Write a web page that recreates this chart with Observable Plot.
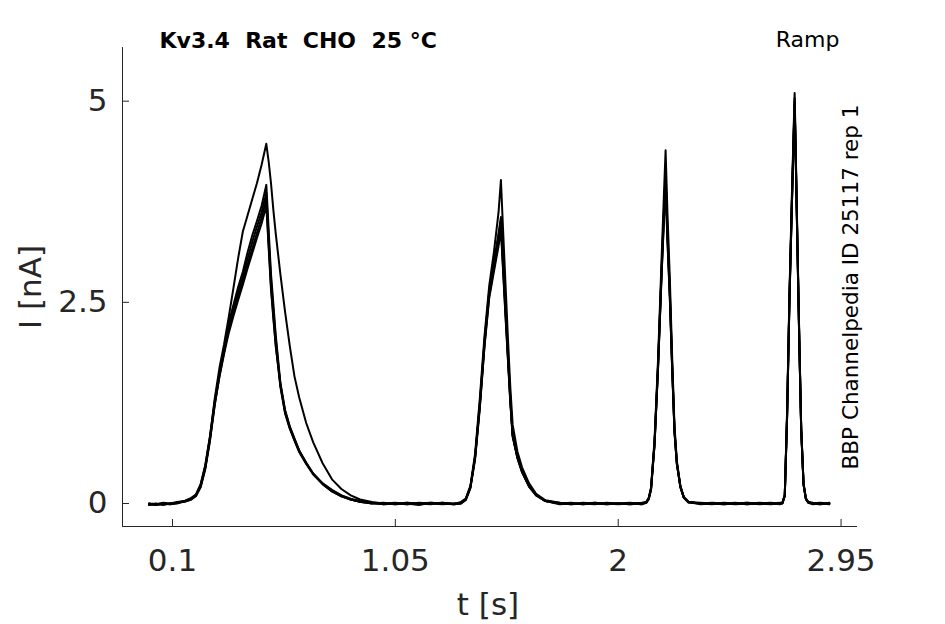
<!DOCTYPE html>
<html>
<head>
<meta charset="utf-8">
<script src="https://cdn.jsdelivr.net/npm/d3@7"></script>
<script src="https://cdn.jsdelivr.net/npm/@observablehq/plot@0.6"></script>
<style>
  html, body { margin: 0; padding: 0; background: #fff; }
  svg text { white-space: pre; }
</style>
</head>
<body>
<div id="chart"></div>
<script>
// ---- data (time in s, current in nA), five repetitions ----
const reps = ["rep A", "rep B", "rep C", "rep D", "rep E"];

const tRamp1 = [0, 0.03, 0.06, 0.09, 0.12, 0.15, 0.18, 0.20, 0.22, 0.24, 0.26, 0.28, 0.30, 0.32, 0.34, 0.36, 0.38, 0.40, 0.42, 0.44, 0.46, 0.48, 0.50, 0.51, 0.52, 0.53, 0.54, 0.56, 0.58, 0.60, 0.62, 0.64, 0.67, 0.70, 0.74, 0.78, 0.82, 0.86, 0.90, 0.95, 1.00, 1.05, 1.10, 1.15, 1.20, 1.25, 1.30];
const iRamp1 = [
  [-0.01, -0.02, 0.00, -0.01, 0.01, 0.03, 0.06, 0.10, 0.22, 0.45, 0.81, 1.25, 1.60, 1.92, 2.25, 2.47, 2.69, 2.88, 3.12, 3.33, 3.51, 3.70, 3.96, 3.40, 2.85, 2.48, 2.10, 1.50, 1.16, 0.96, 0.81, 0.66, 0.50, 0.37, 0.25, 0.17, 0.10, 0.06, 0.03, 0.01, -0.01, 0.00, -0.01, 0.01, 0.00, -0.01, 0.00],
  [0.00, -0.01, 0.01, 0.00, 0.02, 0.03, 0.07, 0.11, 0.23, 0.47, 0.83, 1.30, 1.68, 1.98, 2.32, 2.68, 3.05, 3.38, 3.58, 3.78, 3.98, 4.21, 4.47, 4.25, 3.98, 3.65, 3.36, 2.85, 2.38, 1.96, 1.58, 1.32, 1.00, 0.76, 0.50, 0.30, 0.18, 0.10, 0.05, 0.02, 0.00, 0.01, -0.01, 0.00, 0.01, 0.00, -0.01],
  [-0.02, -0.01, -0.01, 0.00, 0.01, 0.02, 0.05, 0.09, 0.20, 0.43, 0.78, 1.22, 1.58, 1.88, 2.18, 2.42, 2.63, 2.82, 3.04, 3.25, 3.44, 3.62, 3.86, 3.30, 2.78, 2.40, 2.05, 1.47, 1.13, 0.94, 0.79, 0.65, 0.50, 0.37, 0.24, 0.15, 0.09, 0.05, 0.02, 0.00, 0.01, -0.01, 0.00, -0.02, 0.01, 0.00, -0.01],
  [0.00, -0.02, 0.00, -0.01, 0.00, 0.03, 0.06, 0.11, 0.24, 0.48, 0.84, 1.27, 1.62, 1.90, 2.15, 2.37, 2.57, 2.76, 2.97, 3.17, 3.36, 3.55, 3.78, 3.22, 2.70, 2.33, 1.98, 1.45, 1.12, 0.93, 0.78, 0.64, 0.49, 0.36, 0.24, 0.15, 0.09, 0.05, 0.02, 0.01, -0.01, 0.00, 0.01, -0.01, 0.00, 0.01, 0.00],
  [-0.01, 0.00, -0.02, 0.00, 0.01, 0.02, 0.05, 0.10, 0.21, 0.44, 0.80, 1.23, 1.57, 1.86, 2.12, 2.33, 2.53, 2.72, 2.92, 3.11, 3.30, 3.48, 3.70, 3.18, 2.66, 2.30, 1.96, 1.48, 1.15, 0.95, 0.80, 0.66, 0.51, 0.37, 0.25, 0.16, 0.10, 0.05, 0.02, 0.00, 0.00, -0.01, 0.01, 0.00, -0.01, 0.01, -0.01]
];

const tRamp2 = [1.33, 1.35, 1.37, 1.39, 1.41, 1.43, 1.45, 1.47, 1.49, 1.50, 1.51, 1.52, 1.53, 1.54, 1.55, 1.57, 1.59, 1.62, 1.65, 1.69, 1.75, 1.80, 1.85, 1.90, 1.95, 2.00, 2.05, 2.10];
const iRamp2 = [
  [0.01, 0.05, 0.20, 0.57, 1.22, 2.00, 2.63, 2.97, 3.32, 3.52, 2.95, 2.40, 1.85, 1.30, 0.85, 0.58, 0.40, 0.22, 0.11, 0.03, 0.00, -0.01, 0.01, 0.00, -0.01, 0.00, 0.01, -0.01],
  [0.02, 0.06, 0.22, 0.62, 1.30, 2.08, 2.70, 3.12, 3.62, 4.02, 3.35, 2.70, 2.05, 1.45, 0.98, 0.65, 0.45, 0.25, 0.12, 0.04, 0.01, 0.00, -0.01, 0.01, 0.00, 0.00, -0.01, 0.00],
  [0.00, 0.04, 0.19, 0.55, 1.18, 1.96, 2.58, 2.92, 3.25, 3.46, 2.88, 2.33, 1.80, 1.27, 0.84, 0.57, 0.39, 0.21, 0.10, 0.03, -0.01, 0.00, 0.00, -0.01, 0.01, 0.00, -0.01, 0.00],
  [0.01, 0.05, 0.21, 0.58, 1.20, 1.95, 2.55, 2.88, 3.20, 3.40, 2.85, 2.30, 1.78, 1.26, 0.83, 0.57, 0.39, 0.21, 0.10, 0.03, 0.00, 0.01, -0.01, 0.00, 0.00, -0.01, 0.00, 0.01],
  [0.00, 0.05, 0.20, 0.58, 1.24, 2.02, 2.62, 3.00, 3.36, 3.56, 2.98, 2.42, 1.86, 1.31, 0.86, 0.59, 0.41, 0.22, 0.11, 0.03, 0.01, -0.01, 0.00, 0.01, -0.01, 0.00, 0.00, -0.01]
];

const tRamp3 = [2.12, 2.13, 2.14, 2.155, 2.17, 2.185, 2.195, 2.202, 2.21, 2.22, 2.23, 2.24, 2.25, 2.265, 2.28, 2.30, 2.35, 2.40, 2.45, 2.50, 2.55, 2.60, 2.65, 2.69];
const iRamp3 = [
  [0.02, 0.06, 0.18, 0.75, 1.72, 2.90, 3.62, 4.05, 3.35, 2.62, 1.70, 0.90, 0.50, 0.21, 0.07, 0.02, 0.00, -0.01, 0.01, 0.00, -0.01, 0.01, 0.00, -0.01],
  [0.02, 0.07, 0.20, 0.80, 1.80, 3.05, 3.85, 4.39, 3.60, 2.80, 1.82, 0.96, 0.53, 0.22, 0.08, 0.02, 0.01, 0.00, -0.01, 0.00, 0.01, 0.00, -0.01, 0.00],
  [0.01, 0.05, 0.17, 0.73, 1.70, 2.86, 3.56, 3.98, 3.28, 2.57, 1.68, 0.89, 0.49, 0.20, 0.07, 0.01, 0.00, 0.01, 0.00, -0.01, 0.00, 0.00, 0.01, 0.00],
  [0.02, 0.06, 0.18, 0.74, 1.69, 2.84, 3.52, 3.92, 3.25, 2.55, 1.66, 0.88, 0.49, 0.21, 0.07, 0.02, -0.01, 0.00, 0.00, 0.01, -0.01, 0.00, 0.00, 0.01],
  [0.01, 0.06, 0.19, 0.76, 1.74, 2.93, 3.66, 4.10, 3.38, 2.64, 1.72, 0.91, 0.51, 0.21, 0.07, 0.02, 0.00, 0.00, -0.01, 0.00, 0.01, -0.01, 0.00, 0.00]
];

const tRamp4 = [2.70, 2.71, 2.72, 2.73, 2.74, 2.752, 2.758, 2.765, 2.772, 2.78, 2.79, 2.80, 2.81, 2.83, 2.86, 2.90];
const iRamp4 = [
  [0.01, 0.10, 1.10, 2.55, 3.70, 5.00, 4.12, 3.05, 2.00, 0.92, 0.24, 0.06, 0.02, 0.00, -0.01, 0.00],
  [0.01, 0.11, 1.15, 2.62, 3.80, 5.10, 4.20, 3.10, 2.05, 0.95, 0.25, 0.06, 0.02, 0.01, 0.00, -0.01],
  [0.00, 0.09, 1.08, 2.52, 3.66, 4.94, 4.08, 3.02, 1.98, 0.91, 0.23, 0.05, 0.01, -0.01, 0.00, 0.00],
  [0.01, 0.10, 1.09, 2.53, 3.68, 4.96, 4.10, 3.03, 1.99, 0.92, 0.24, 0.06, 0.02, 0.00, 0.01, 0.00],
  [0.00, 0.10, 1.12, 2.57, 3.73, 5.04, 4.15, 3.07, 2.02, 0.93, 0.24, 0.06, 0.01, 0.00, -0.01, 0.01]
];

const xTicks = [0.1, 1.05, 2, 2.95];
const yTicks = [0, 2.5, 5];
const xDomain = [-0.113, 3.02];
const yDomain = [-0.286, 5.667];

const title = "Kv3.4  Rat  CHO  25 °C";
const protocol = "Ramp";
const sideNote = "BBP Channelpedia ID 25117 rep 1";
const xLabel = "t [s]";
const yLabel = "I [nA]";

// ---- build long table ----
const segments = [[tRamp1, iRamp1], [tRamp2, iRamp2], [tRamp3, iRamp3], [tRamp4, iRamp4]];
const rows = [];
reps.forEach((rep, r) => {
  segments.forEach(([ts, is]) => {
    ts.forEach((t, k) => rows.push({rep, t, i: is[r][k]}));
  });
});

const W = 945, H = 624;
const mL = 122, mR = 88, mT = 47, mB = 98;
const innerW = W - mL - mR, innerH = H - mT - mB;
const axisColor = "#262626";
const fontFamily = "DejaVu Sans";

const chart = Plot.plot({
  width: W,
  height: H,
  marginLeft: mL,
  marginRight: mR,
  marginTop: mT,
  marginBottom: mB,
  style: {fontFamily, color: axisColor, background: "#fff", overflow: "visible"},
  x: {domain: xDomain, axis: null},
  y: {domain: yDomain, axis: null},
  marks: [
    Plot.ruleX([xDomain[0]], {stroke: axisColor, strokeWidth: 1}),
    Plot.ruleY([yDomain[0]], {stroke: axisColor, strokeWidth: 1}),
    Plot.tickX(xTicks, {x: d => d, stroke: axisColor, insetTop: innerH - 7}),
    Plot.tickY(yTicks, {y: d => d, stroke: axisColor, insetRight: innerW - 7}),
    Plot.axisX(xTicks, {tickSize: 0, tickPadding: 22, fontSize: 31, tickFormat: d => String(d), label: null, fill: axisColor}),
    Plot.axisY(yTicks, {tickSize: 0, tickPadding: 15, fontSize: 31, tickFormat: d => String(d), label: null, fill: axisColor}),
    Plot.line(rows, {x: "t", y: "i", z: "rep", stroke: "black", strokeWidth: 2, strokeLinejoin: "round"}),
    Plot.text([xLabel], {frameAnchor: "bottom", text: d => d, fontSize: 31, fill: axisColor, textAnchor: "middle", lineAnchor: "middle", dx: -2, dy: 79}),
    Plot.text([yLabel], {frameAnchor: "left", text: d => d, fontSize: 31, fill: axisColor, rotate: -90, textAnchor: "middle", lineAnchor: "middle", dx: -91}),
    Plot.text([title], {frameAnchor: "top-left", text: d => d, fontSize: 22, fontWeight: "bold", fill: "black", textAnchor: "start", lineAnchor: "middle", dx: 37, dy: -7}),
    Plot.text([protocol], {frameAnchor: "top-right", text: d => d, fontSize: 22, fill: "black", textAnchor: "end", lineAnchor: "middle", dx: -18, dy: -8}),
    Plot.text([sideNote], {frameAnchor: "right", text: d => d, fontSize: 21.5, fill: "black", rotate: -90, textAnchor: "middle", lineAnchor: "middle", dx: -6})
  ]
});

document.getElementById("chart").appendChild(chart);
</script>
</body>
</html>
